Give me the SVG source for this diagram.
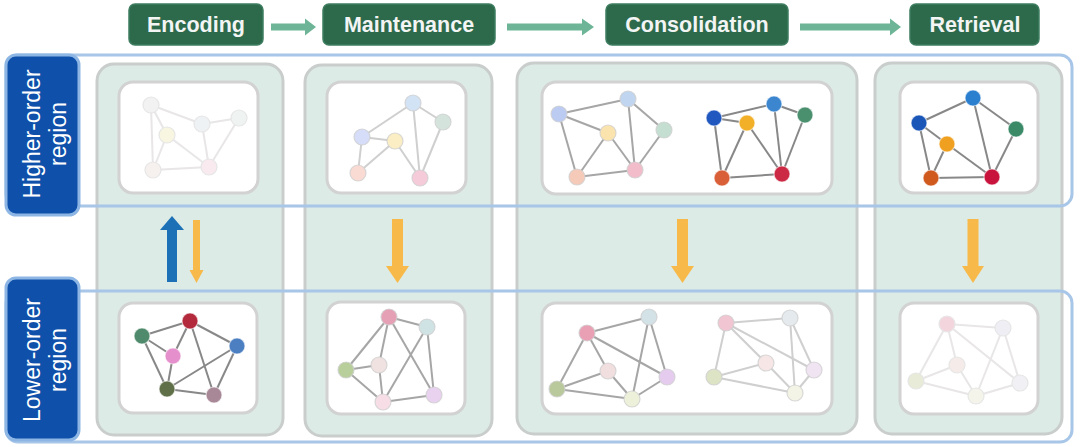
<svg xmlns="http://www.w3.org/2000/svg" width="1080" height="447" viewBox="0 0 1080 447">
<style>
.stage rect{fill:#2d6a4c;stroke:#3f7d60;stroke-width:1.5}
.stage text{font-family:"Liberation Sans",Arial,sans-serif;font-weight:bold;font-size:21.5px;fill:#f2f5f3;text-anchor:middle}
.col{fill:#dcebe5;stroke:#c9cdcb;stroke-width:3}
.frame{fill:none;stroke:#a8c6e8;stroke-width:3}
.lab rect{fill:#0e50aa;stroke:#8db6e4;stroke-width:3}
.lab text{font-family:"Liberation Sans",Arial,sans-serif;font-size:23px;fill:#ffffff;text-anchor:middle}
.panel{fill:#ffffff;stroke:#d2d2d2;stroke-width:3}
.hdr{fill:#6db596}
.org{fill:#f8b94b}
.blu{fill:#1c71b6}
.e0 line{stroke:#888;stroke-width:2}
.e1 line{stroke:#a6a6a6;stroke-width:2}
.e2 line{stroke:#cfcfcf;stroke-width:2}
.e3 line{stroke:#e8e6e6;stroke-width:2}
circle{stroke-width:1.2}
.n0 circle{stroke:#ffffff;stroke-opacity:.6}
.n1 circle{stroke:#d0d0d0;stroke-opacity:.8}
.n3 circle{stroke:#e6e6e6}
</style>

<!-- columns -->
<g id="col-encoding"><rect class="col" x="97" y="64" width="186" height="371" rx="17"/></g>
<g id="col-maintenance"><rect class="col" x="305" y="65" width="187" height="371" rx="17"/></g>
<g id="col-consolidation"><rect class="col" x="517" y="63" width="340" height="371" rx="17"/></g>
<g id="col-retrieval"><rect class="col" x="875" y="63" width="187" height="371" rx="17"/></g>

<!-- region frames -->
<g id="frame-higher"><rect class="frame" x="6" y="55" width="1066" height="151" rx="12"/></g>
<g id="frame-lower"><rect class="frame" x="6" y="291" width="1066" height="151" rx="12"/></g>

<!-- region labels -->
<g id="label-higher" class="lab">
<rect x="6" y="55" width="73" height="160" rx="10"/>
<text transform="translate(42,134) rotate(-90)"><tspan x="0" y="-2">Higher-order</tspan><tspan x="0" y="24">region</tspan></text>
</g>
<g id="label-lower" class="lab">
<rect x="6" y="278" width="73" height="162" rx="10"/>
<text transform="translate(42,360) rotate(-90)"><tspan x="0" y="-2">Lower-order</tspan><tspan x="0" y="24">region</tspan></text>
</g>

<!-- stage headers -->
<g id="stage-encoding" class="stage"><rect x="129" y="4" width="134" height="41" rx="6"/><text x="196" y="32">Encoding</text></g>
<g id="stage-maintenance" class="stage"><rect x="323" y="4" width="172" height="41" rx="6"/><text x="409" y="32">Maintenance</text></g>
<g id="stage-consolidation" class="stage"><rect x="606" y="4" width="182" height="41" rx="6"/><text x="697" y="32">Consolidation</text></g>
<g id="stage-retrieval" class="stage"><rect x="910" y="4" width="129" height="41" rx="6"/><text x="975" y="32">Retrieval</text></g>

<!-- panels -->
<g id="panel-enc-high"><rect class="panel" x="119" y="82" width="139" height="111" rx="14"/></g>
<g id="panel-mnt-high"><rect class="panel" x="327" y="82" width="139" height="111" rx="14"/></g>
<g id="panel-con-high"><rect class="panel" x="542" y="82" width="290" height="112" rx="14"/></g>
<g id="panel-ret-high"><rect class="panel" x="900" y="82" width="138" height="111" rx="14"/></g>
<g id="panel-enc-low"><rect class="panel" x="119" y="303" width="138" height="110" rx="14"/></g>
<g id="panel-mnt-low"><rect class="panel" x="327" y="302" width="138" height="112" rx="14"/></g>
<g id="panel-con-low"><rect class="panel" x="542" y="303" width="290" height="111" rx="14"/></g>
<g id="panel-ret-low"><rect class="panel" x="900" y="303" width="138" height="111" rx="14"/></g>

<!-- connectors -->
<g id="connectors">
<rect class="hdr" x="271" y="23.5" width="35" height="7"/><polygon class="hdr" points="305,18.5 316,27 305,35.5"/>
<rect class="hdr" x="507" y="23.5" width="76" height="7"/><polygon class="hdr" points="582,18.5 594,27 582,35.5"/>
<rect class="hdr" x="800" y="23.5" width="91" height="7"/><polygon class="hdr" points="890,18.5 901,27 890,35.5"/>
<rect class="blu" x="167" y="229" width="10" height="53"/><polygon class="blu" points="160,230 172,216 184,230"/>
<rect class="org" x="193" y="220" width="7" height="51"/><polygon class="org" points="189.5,270 196.5,283 203.5,270"/>
<rect class="org" x="392" y="219" width="11" height="48"/><polygon class="org" points="386,266 397.5,283 409,266"/>
<rect class="org" x="677" y="219" width="11" height="48"/><polygon class="org" points="671,266 682.5,283 694,266"/>
<rect class="org" x="967.5" y="219" width="11" height="48"/><polygon class="org" points="962,266 973,283 984,266"/>
</g>

<!-- graphs: Encoding high (very faded) -->
<g id="graph-enc-high">
<g class="e3"><line x1="151" y1="105" x2="202" y2="124"/><line x1="202" y1="124" x2="239" y2="118"/><line x1="151" y1="105" x2="167" y2="135"/><line x1="151" y1="105" x2="153" y2="170"/><line x1="167" y1="135" x2="153" y2="170"/><line x1="167" y1="135" x2="209" y2="167"/><line x1="202" y1="124" x2="209" y2="167"/><line x1="239" y1="118" x2="209" y2="167"/><line x1="153" y1="170" x2="209" y2="167"/></g>
<g class="n3"><circle cx="151" cy="105" r="8" fill="#f2f2f3"/><circle cx="202" cy="124" r="8" fill="#eef2f4"/><circle cx="239" cy="118" r="8" fill="#eff3f2"/><circle cx="167" cy="135" r="8" fill="#f8f6e0"/><circle cx="153" cy="170" r="8" fill="#f6f1ef"/><circle cx="209" cy="167" r="8" fill="#f8eaee"/></g>
</g>

<!-- Maintenance high -->
<g id="graph-mnt-high">
<g class="e2"><line x1="362" y1="137" x2="413" y2="103"/><line x1="362" y1="137" x2="395" y2="141"/><line x1="362" y1="137" x2="358" y2="173"/><line x1="395" y1="141" x2="358" y2="173"/><line x1="395" y1="141" x2="420" y2="178"/><line x1="413" y1="103" x2="420" y2="178"/><line x1="413" y1="103" x2="443" y2="122"/><line x1="443" y1="122" x2="420" y2="178"/></g>
<g class="n1"><circle cx="362" cy="137" r="8" fill="#d5ddf8"/><circle cx="413" cy="103" r="8" fill="#d3e3f6"/><circle cx="443" cy="122" r="8" fill="#d4e4dd"/><circle cx="395" cy="141" r="8" fill="#fbedc4"/><circle cx="358" cy="173" r="8" fill="#f9dbd3"/><circle cx="420" cy="178" r="8" fill="#f6cbd9"/></g>
</g>

<!-- Consolidation high, faded left -->
<g id="graph-con-high-a">
<g class="e1"><line x1="559" y1="114" x2="628" y2="99"/><line x1="559" y1="114" x2="608" y2="133"/><line x1="559" y1="114" x2="577" y2="177"/><line x1="628" y1="99" x2="635" y2="170"/><line x1="628" y1="99" x2="664" y2="130"/><line x1="608" y1="133" x2="577" y2="177"/><line x1="608" y1="133" x2="635" y2="170"/><line x1="664" y1="130" x2="635" y2="170"/><line x1="577" y1="177" x2="635" y2="170"/></g>
<g class="n1"><circle cx="559" cy="114" r="8" fill="#bccbf2"/><circle cx="628" cy="99" r="8" fill="#c0d6f0"/><circle cx="664" cy="130" r="8" fill="#c4dfd1"/><circle cx="608" cy="133" r="8" fill="#fbe3ae"/><circle cx="577" cy="177" r="8" fill="#f6cab9"/><circle cx="635" cy="170" r="8" fill="#f2bccb"/></g>
</g>

<!-- Consolidation high, full right -->
<g id="graph-con-high-b">
<g class="e0"><line x1="714" y1="118" x2="774" y2="104"/><line x1="774" y1="104" x2="805" y2="115"/><line x1="714" y1="118" x2="747" y2="123"/><line x1="714" y1="118" x2="722" y2="178"/><line x1="747" y1="123" x2="722" y2="178"/><line x1="747" y1="123" x2="782" y2="174"/><line x1="774" y1="104" x2="782" y2="174"/><line x1="805" y1="115" x2="782" y2="174"/><line x1="722" y1="178" x2="782" y2="174"/></g>
<g class="n0"><circle cx="714" cy="118" r="8" fill="#2158c0"/><circle cx="774" cy="104" r="8" fill="#3c86d0"/><circle cx="805" cy="115" r="8" fill="#4a8f6e"/><circle cx="747" cy="123" r="8" fill="#f2af28"/><circle cx="722" cy="178" r="8" fill="#d95f38"/><circle cx="782" cy="174" r="8" fill="#cc2a44"/></g>
</g>

<!-- Retrieval high -->
<g id="graph-ret-high">
<g class="e0"><line x1="919" y1="123" x2="973" y2="98"/><line x1="973" y1="98" x2="1016" y2="129"/><line x1="973" y1="98" x2="992" y2="177"/><line x1="1016" y1="129" x2="992" y2="177"/><line x1="919" y1="123" x2="947" y2="144"/><line x1="919" y1="123" x2="931" y2="178"/><line x1="947" y1="144" x2="931" y2="178"/><line x1="947" y1="144" x2="992" y2="177"/><line x1="931" y1="178" x2="992" y2="177"/></g>
<g class="n0"><circle cx="919" cy="123" r="8" fill="#1a56b8"/><circle cx="973" cy="98" r="8" fill="#2a7fcf"/><circle cx="1016" cy="129" r="8" fill="#3a8a68"/><circle cx="947" cy="144" r="8" fill="#f0a020"/><circle cx="931" cy="178" r="8" fill="#d0591e"/><circle cx="992" cy="177" r="8" fill="#c8143c"/></g>
</g>

<!-- Encoding low -->
<g id="graph-enc-low">
<g class="e0"><line x1="142" y1="336" x2="190" y2="321"/><line x1="142" y1="336" x2="173" y2="356"/><line x1="142" y1="336" x2="167" y2="389"/><line x1="190" y1="321" x2="173" y2="356"/><line x1="190" y1="321" x2="237" y2="346"/><line x1="190" y1="321" x2="214" y2="395"/><line x1="173" y1="356" x2="167" y2="389"/><line x1="167" y1="389" x2="237" y2="346"/><line x1="167" y1="389" x2="214" y2="395"/><line x1="237" y1="346" x2="214" y2="395"/></g>
<g class="n0"><circle cx="142" cy="336" r="8" fill="#4f8a6c"/><circle cx="190" cy="321" r="8" fill="#b32a3c"/><circle cx="237" cy="346" r="8" fill="#4b7fc2"/><circle cx="173" cy="356" r="8" fill="#e590cc"/><circle cx="167" cy="389" r="8" fill="#5f7048"/><circle cx="214" cy="395" r="8" fill="#a88896"/></g>
</g>

<!-- Maintenance low -->
<g id="graph-mnt-low">
<g class="e1"><line x1="389" y1="317" x2="427" y2="327"/><line x1="389" y1="317" x2="346" y2="370"/><line x1="389" y1="317" x2="379" y2="365"/><line x1="389" y1="317" x2="434" y2="395"/><line x1="427" y1="327" x2="383" y2="402"/><line x1="427" y1="327" x2="434" y2="395"/><line x1="346" y1="370" x2="379" y2="365"/><line x1="346" y1="370" x2="383" y2="402"/><line x1="379" y1="365" x2="383" y2="402"/><line x1="383" y1="402" x2="434" y2="395"/></g>
<g class="n1"><circle cx="389" cy="317" r="8" fill="#e6a0b6"/><circle cx="427" cy="327" r="8" fill="#cfe2e4"/><circle cx="346" cy="370" r="8" fill="#b8cf9c"/><circle cx="379" cy="365" r="8" fill="#f1e2e2"/><circle cx="383" cy="402" r="8" fill="#f6dde6"/><circle cx="434" cy="395" r="8" fill="#e8d2f0"/></g>
</g>

<!-- Consolidation low left -->
<g id="graph-con-low-a">
<g class="e1"><line x1="587" y1="333" x2="649" y2="317"/><line x1="587" y1="333" x2="608" y2="371"/><line x1="587" y1="333" x2="667" y2="377"/><line x1="587" y1="333" x2="557" y2="389"/><line x1="649" y1="317" x2="632" y2="399"/><line x1="649" y1="317" x2="667" y2="377"/><line x1="557" y1="389" x2="608" y2="371"/><line x1="557" y1="389" x2="632" y2="399"/><line x1="608" y1="371" x2="632" y2="399"/><line x1="632" y1="399" x2="667" y2="377"/></g>
<g class="n1"><circle cx="587" cy="333" r="8" fill="#e9a0b5"/><circle cx="649" cy="317" r="8" fill="#d3e2e7"/><circle cx="608" cy="371" r="8" fill="#f1dedf"/><circle cx="667" cy="377" r="8" fill="#e5ccef"/><circle cx="557" cy="389" r="8" fill="#b9c99b"/><circle cx="632" cy="399" r="8" fill="#eef1da"/></g>
</g>

<!-- Consolidation low right -->
<g id="graph-con-low-b">
<g class="e2"><line x1="726" y1="323" x2="790" y2="318"/><line x1="726" y1="323" x2="766" y2="363"/><line x1="726" y1="323" x2="814" y2="370"/><line x1="726" y1="323" x2="714" y2="377"/><line x1="790" y1="318" x2="795" y2="393"/><line x1="790" y1="318" x2="814" y2="370"/><line x1="714" y1="377" x2="766" y2="363"/><line x1="714" y1="377" x2="795" y2="393"/><line x1="766" y1="363" x2="795" y2="393"/><line x1="795" y1="393" x2="814" y2="370"/></g>
<g class="n1"><circle cx="726" cy="323" r="8" fill="#f1c5d2"/><circle cx="790" cy="318" r="8" fill="#e5eaee"/><circle cx="766" cy="363" r="8" fill="#f6e6e6"/><circle cx="814" cy="370" r="8" fill="#f0e4f2"/><circle cx="714" cy="377" r="8" fill="#dce4c5"/><circle cx="795" cy="393" r="8" fill="#f4f4e6"/></g>
</g>

<!-- Retrieval low -->
<g id="graph-ret-low">
<g class="e3"><line x1="947" y1="324" x2="1003" y2="328"/><line x1="947" y1="324" x2="957" y2="365"/><line x1="947" y1="324" x2="1020" y2="383"/><line x1="947" y1="324" x2="916" y2="381"/><line x1="1003" y1="328" x2="976" y2="396"/><line x1="1003" y1="328" x2="1020" y2="383"/><line x1="916" y1="381" x2="957" y2="365"/><line x1="916" y1="381" x2="976" y2="396"/><line x1="957" y1="365" x2="976" y2="396"/><line x1="976" y1="396" x2="1020" y2="383"/></g>
<g class="n3"><circle cx="947" cy="324" r="8" fill="#f3d6dd"/><circle cx="1003" cy="328" r="8" fill="#eeeef4"/><circle cx="957" cy="365" r="8" fill="#f5ebe9"/><circle cx="1020" cy="383" r="8" fill="#f1f0f4"/><circle cx="916" cy="381" r="8" fill="#e7ebd7"/><circle cx="976" cy="396" r="8" fill="#f4f4ea"/></g>
</g>
</svg>
